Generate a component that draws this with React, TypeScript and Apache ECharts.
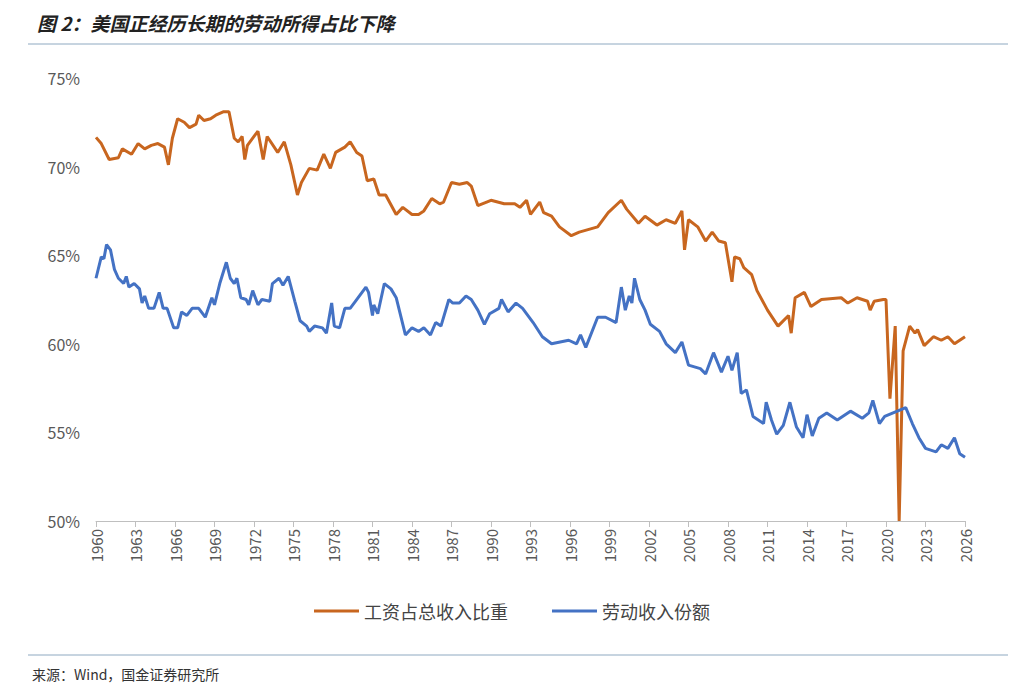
import { useEffect, useRef } from "react";
import * as echarts from "echarts";

// 工资占总收入比重 [year, %]
const wageShare: [number, number][] = [
  [1960.0, 71.65], [1960.4, 71.3], [1961.0, 70.4], [1961.7, 70.5], [1962.0, 71.0], [1962.7, 70.7],
  [1963.2, 71.3], [1963.7, 71.0], [1964.2, 71.2], [1964.7, 71.3], [1965.2, 71.1], [1965.5, 70.1],
  [1965.8, 71.6], [1966.2, 72.7], [1966.7, 72.5], [1967.1, 72.2], [1967.6, 72.4], [1967.8, 72.9],
  [1968.2, 72.6], [1968.7, 72.7], [1969.1, 72.9], [1969.7, 73.1], [1970.1, 73.1], [1970.5, 71.6],
  [1970.8, 71.4], [1971.1, 71.7], [1971.3, 70.4], [1971.5, 71.2], [1972.0, 71.7], [1972.3, 72.0],
  [1972.7, 70.4], [1973.0, 71.7], [1973.8, 70.8], [1974.3, 71.4], [1974.8, 70.1], [1975.3, 68.4],
  [1975.6, 69.1], [1976.2, 69.9], [1976.8, 69.8], [1977.3, 70.7], [1977.8, 69.9], [1978.2, 70.8],
  [1978.9, 71.1], [1979.3, 71.4], [1979.8, 70.8], [1980.2, 70.6], [1980.6, 69.2], [1981.1, 69.3],
  [1981.5, 68.4], [1982.0, 68.4], [1982.8, 67.3], [1983.3, 67.7], [1984.0, 67.3], [1984.5, 67.3],
  [1984.9, 67.5], [1985.5, 68.2], [1986.1, 67.9], [1986.4, 68.0], [1987.0, 69.1], [1987.6, 69.0],
  [1988.2, 69.1], [1988.5, 68.9], [1989.0, 67.8], [1990.0, 68.1], [1991.0, 67.9], [1991.8, 67.9],
  [1992.2, 67.7], [1992.7, 68.1], [1993.0, 67.3], [1993.7, 68.0], [1994.0, 67.4], [1994.6, 67.2],
  [1995.2, 66.6], [1996.1, 66.1], [1996.7, 66.3], [1998.1, 66.6], [1998.9, 67.4], [1999.9, 68.1],
  [2000.3, 67.6], [2001.2, 66.8], [2001.7, 67.2], [2002.6, 66.7], [2003.3, 67.0], [2004.0, 66.8],
  [2004.5, 67.5], [2004.7, 65.3], [2005.0, 67.0], [2005.7, 66.6], [2006.3, 65.8], [2006.8, 66.3],
  [2007.3, 65.8], [2007.8, 65.7], [2008.3, 63.5], [2008.5, 64.9], [2008.9, 64.8], [2009.2, 64.3],
  [2009.8, 63.9], [2010.2, 63.0], [2011.0, 61.9], [2011.8, 61.0], [2012.6, 61.6], [2012.8, 60.6],
  [2013.1, 62.6], [2013.8, 62.9], [2014.3, 62.1], [2015.1, 62.5], [2016.6, 62.6], [2017.1, 62.3],
  [2017.8, 62.6], [2018.6, 62.4], [2018.8, 61.9], [2019.1, 62.4], [2019.8, 62.5], [2020.0, 62.5],
  [2020.3, 56.9], [2020.7, 61.0], [2021.0, 50.0], [2021.3, 59.6], [2021.8, 61.0], [2022.2, 60.6],
  [2022.4, 60.8], [2022.9, 59.9], [2023.6, 60.4], [2024.2, 60.2], [2024.7, 60.4], [2025.2, 60.0],
  [2026.0, 60.4],
];

// 劳动收入份额 [year, %]
const laborShare: [number, number][] = [
  [1960.0, 63.7], [1960.4, 64.9], [1960.6, 64.8], [1960.8, 65.6], [1961.1, 65.3], [1961.4, 64.2],
  [1961.7, 63.7], [1962.1, 63.4], [1962.3, 63.8], [1962.5, 63.2], [1962.9, 63.4], [1963.3, 63.1],
  [1963.5, 62.3], [1963.7, 62.7], [1964.0, 62.0], [1964.4, 62.0], [1964.8, 62.9], [1965.1, 62.0],
  [1965.4, 62.0], [1965.9, 60.9], [1966.2, 60.9], [1966.5, 61.8], [1966.9, 61.6], [1967.3, 62.0],
  [1967.8, 62.0], [1968.3, 61.5], [1968.8, 62.6], [1969.0, 62.2], [1969.4, 63.4], [1969.9, 64.6],
  [1970.2, 63.7], [1970.5, 63.4], [1970.7, 63.7], [1971.0, 62.6], [1971.4, 62.5], [1971.6, 62.2],
  [1971.9, 63.0], [1972.3, 62.2], [1972.6, 62.5], [1973.2, 62.4], [1973.4, 63.4], [1973.9, 63.7],
  [1974.2, 63.3], [1974.6, 63.8], [1975.1, 62.4], [1975.5, 61.3], [1976.0, 61.0], [1976.2, 60.7],
  [1976.6, 61.0], [1977.2, 60.9], [1977.5, 60.6], [1977.9, 62.3], [1978.1, 61.0], [1978.5, 60.9],
  [1978.9, 62.0], [1979.3, 62.0], [1979.7, 62.4], [1980.5, 63.2], [1980.7, 62.9], [1981.0, 61.6],
  [1981.1, 62.2], [1981.4, 61.7], [1981.9, 63.4], [1982.4, 63.1], [1982.8, 62.6], [1983.5, 60.5],
  [1984.0, 60.9], [1984.5, 60.7], [1984.9, 60.9], [1985.4, 60.5], [1985.8, 61.2], [1986.2, 61.0],
  [1986.8, 62.5], [1987.1, 62.3], [1987.6, 62.3], [1988.1, 62.7], [1988.5, 62.5], [1989.0, 61.9],
  [1989.5, 61.1], [1989.9, 61.7], [1990.6, 62.0], [1990.8, 62.5], [1991.3, 61.8], [1991.9, 62.3],
  [1992.4, 62.0], [1993.2, 61.2], [1993.9, 60.4], [1994.6, 60.0], [1995.9, 60.2], [1996.5, 60.0],
  [1996.8, 60.5], [1997.2, 59.8], [1998.1, 61.5], [1998.7, 61.5], [1999.5, 61.2], [1999.9, 63.2],
  [2000.2, 61.9], [2000.5, 62.7], [2000.7, 62.3], [2000.9, 63.7], [2001.3, 62.5], [2001.7, 61.9],
  [2002.1, 61.1], [2002.8, 60.7], [2003.3, 60.0], [2004.0, 59.5], [2004.5, 60.1], [2005.0, 58.8],
  [2005.9, 58.6], [2006.3, 58.3], [2006.9, 59.5], [2007.5, 58.4], [2008.0, 59.3], [2008.3, 58.5],
  [2008.7, 59.5], [2009.0, 57.2], [2009.4, 57.4], [2009.9, 55.9], [2010.7, 55.5], [2010.9, 56.7],
  [2011.3, 55.7], [2011.7, 54.9], [2012.2, 55.4], [2012.7, 56.7], [2013.2, 55.3], [2013.7, 54.7],
  [2014.0, 56.0], [2014.4, 54.8], [2014.9, 55.8], [2015.5, 56.1], [2016.3, 55.7], [2017.3, 56.2],
  [2018.2, 55.8], [2018.7, 56.1], [2019.0, 56.8], [2019.5, 55.5], [2019.9, 55.9], [2021.5, 56.4],
  [2022.0, 55.5], [2022.5, 54.7], [2023.0, 54.1], [2023.8, 53.9], [2024.2, 54.3], [2024.7, 54.1],
  [2025.2, 54.7], [2025.6, 53.8], [2026.0, 53.6],
];

const FONT = "'Noto Sans CJK SC', 'Noto Sans', sans-serif";

export default function App() {
  const ref = useRef<HTMLDivElement | null>(null);

  useEffect(() => {
    if (!ref.current) return;
    const chart = echarts.init(ref.current, undefined, { renderer: "svg" });

    chart.setOption({
      animation: false,
      backgroundColor: "#ffffff",
      textStyle: { fontFamily: FONT },
      title: {
        text: "图 2：美国正经历长期的劳动所得占比下降",
        left: 32,
        top: 8,
        textStyle: { fontSize: 19, fontWeight: "bold", fontStyle: "italic", color: "#222", fontFamily: FONT },
      },
      graphic: [
        { type: "line", shape: { x1: 28, y1: 44, x2: 1008, y2: 44 }, style: { stroke: "#8ea9c1", lineWidth: 1 } },
        { type: "line", shape: { x1: 28, y1: 655, x2: 1008, y2: 655 }, style: { stroke: "#8ea9c1", lineWidth: 1 } },
        {
          type: "text",
          left: 32,
          top: 667,
          style: { text: "来源：Wind，国金证券研究所", fontSize: 14, fill: "#333", fontFamily: "'Noto Sans CJK SC', monospace" },
        },
      ],
      legend: {
        bottom: 72,
        left: "center",
        itemWidth: 45,
        itemGap: 44,
        icon: "rect",
        itemHeight: 3,
        textStyle: { fontSize: 18, color: "#444" },
        data: ["工资占总收入比重", "劳动收入份额"],
      },
      grid: { left: 96, right: 59, top: 78, bottom: 176 },
      xAxis: {
        type: "value",
        min: 1960,
        max: 2026,
        interval: 3,
        axisLine: { lineStyle: { color: "#bfbfbf" } },
        axisTick: { show: true, length: 6, lineStyle: { color: "#bfbfbf" } },
        axisLabel: { rotate: 90, color: "#595959", fontSize: 15, margin: 8, formatter: (v: number) => String(v) },
        splitLine: { show: false },
      },
      yAxis: {
        type: "value",
        min: 50,
        max: 75,
        interval: 5,
        axisLine: { show: false },
        axisTick: { show: false },
        axisLabel: { color: "#595959", fontSize: 16, formatter: (v: number) => `${v}%`, margin: 16 },
        splitLine: { show: false },
      },
      series: [
        {
          name: "工资占总收入比重",
          type: "line",
          data: wageShare,
          showSymbol: false,
          lineStyle: { color: "#c8661f", width: 3 },
          itemStyle: { color: "#c8661f" },
        },
        {
          name: "劳动收入份额",
          type: "line",
          data: laborShare,
          showSymbol: false,
          lineStyle: { color: "#4472c4", width: 3 },
          itemStyle: { color: "#4472c4" },
        },
      ],
    });

    return () => chart.dispose();
  }, []);

  return <div ref={ref} style={{ position: "absolute", left: 0, top: 0, width: 1024, height: 697 }} />;
}
